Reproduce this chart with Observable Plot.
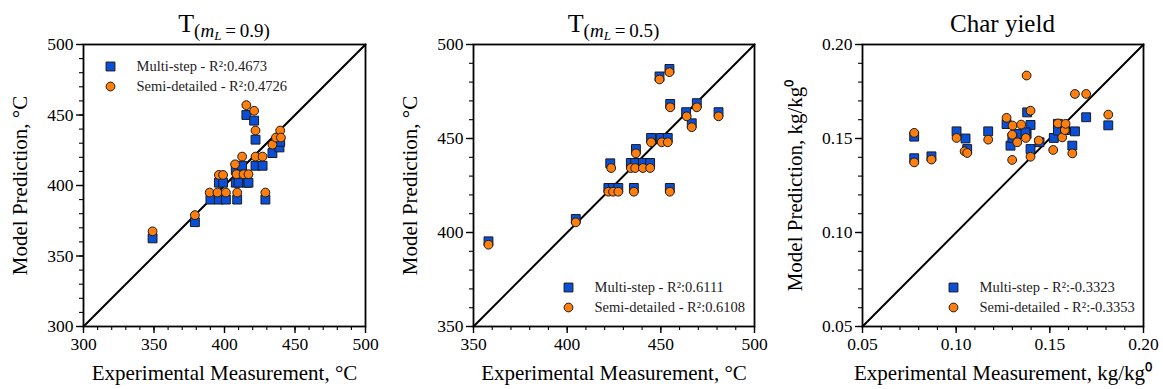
<!DOCTYPE html>
<html>
<head>
<meta charset="utf-8">
<script src="https://cdn.jsdelivr.net/npm/d3@7"></script>
<script src="https://cdn.jsdelivr.net/npm/@observablehq/plot@0.6"></script>
<style>
  html, body { margin: 0; padding: 0; background: #fff; }
  #wrap { position: relative; width: 1163px; height: 389px; overflow: hidden; }
  .panel { position: absolute; top: 0; }
  .panel svg, .panel svg text, .panel svg tspan, .panel svg g { font-family: "Liberation Serif", "Times New Roman", serif !important; }
</style>
</head>
<body>
<div id="wrap"></div>
<script>
// ---------- Panel 1: T (mL = 0.9) ----------
const p1Domain = [300, 500];
const p1Major = [300, 350, 400, 450, 500];
const p1Minor = d3.range(300, 501, 10);
const p1MsExp  = [349, 379, 390, 396, 401, 409, 429, 396, 399, 408, 410, 416, 408, 412.5, 422, 427, 415.5, 421, 422, 434, 439, 439.5, 417];
const p1MsPred = [362.5, 374, 390, 390, 390, 390, 390, 402, 402, 402, 402, 402, 411, 414, 414, 414, 450, 446, 432.5, 423, 427, 431, 402];
const p1SdExp  = [349, 379, 389.5, 395, 401, 409, 429, 396, 399, 407.5, 408.5, 412.5, 413.5, 417, 415.5, 421, 422, 422, 427, 434, 436.5, 439.5, 440];
const p1SdPred = [367.5, 379, 395, 395, 395, 395, 395, 407.5, 407.5, 415, 408, 420.5, 408, 408, 457, 453, 439, 420.5, 420.5, 429, 434, 439, 434];
const p1Legend = ["Multi-step - R²:0.4673", "Semi-detailed - R²:0.4726"];

// ---------- Panel 2: T (mL = 0.5) ----------
const p2Domain = [350, 500];
const p2Major = [350, 400, 450, 500];
const p2Minor = d3.range(350, 501, 10);
const p2MsExp  = [358, 404.6, 423, 422, 424.5, 427.3, 435.6, 454.8, 434, 436.3, 440.4, 444.3, 436.7, 444.8, 450, 453.7, 449.3, 454.6, 455, 463.5, 466.5, 469.2, 480.8];
const p2MsPred = [395.3, 407.2, 436.8, 423.7, 423.7, 423.7, 423.7, 423.7, 437, 437, 437, 437, 444.4, 450.3, 450.3, 450.3, 483, 487, 468.4, 464, 458.1, 468.8, 464];
const p2SdExp  = [358, 404.6, 423.5, 422, 424.5, 427.3, 435.6, 454.8, 434, 436.3, 440.4, 444.3, 436.7, 444.8, 450.5, 453.7, 449.3, 454.6, 455, 463.8, 466.5, 469.2, 480.8];
const p2SdPred = [393.5, 405.4, 434.3, 421.7, 421.7, 421.7, 421.7, 421.7, 434.3, 434.3, 434.3, 434.3, 442.1, 448, 448, 448, 481.4, 485.3, 466.6, 461.8, 456, 466.6, 461.8];
const p2Legend = ["Multi-step - R²:0.6111", "Semi-detailed - R²:0.6108"];

// ---------- Panel 3: Char yield ----------
const p3Domain = [0.05, 0.20];
const p3Major = [0.05, 0.10, 0.15, 0.20];
const p3Minor = d3.range(5, 21, 1).map(d => d / 100);
const p3MsExp  = [0.0776, 0.0776, 0.0868, 0.1002, 0.105, 0.1059, 0.1171, 0.1269, 0.129, 0.1326, 0.1376, 0.1379, 0.1397, 0.137, 0.1397, 0.1445, 0.1521, 0.1543, 0.1543, 0.1582, 0.162, 0.1634, 0.1694, 0.1812, 0.1300];
const p3MsPred = [0.151, 0.1395, 0.1405, 0.1538, 0.150, 0.1444, 0.1538, 0.1577, 0.1462, 0.1524, 0.1524, 0.1639, 0.1572, 0.1533, 0.1444, 0.148, 0.1503, 0.1578, 0.1542, 0.1545, 0.1462, 0.1538, 0.1613, 0.157, 0.1503];
const p3SdExp  = [0.0776, 0.0776, 0.0868, 0.1002, 0.1045, 0.1059, 0.1171, 0.1269, 0.1301, 0.1347, 0.1299, 0.1299, 0.1326, 0.1372, 0.1376, 0.1397, 0.1397, 0.1441, 0.1518, 0.1543, 0.1566, 0.158, 0.1584, 0.162, 0.1634, 0.1694, 0.1812];
const p3SdPred = [0.153, 0.1373, 0.1388, 0.1503, 0.1432, 0.1423, 0.1494, 0.161, 0.1569, 0.1574, 0.152, 0.1386, 0.148, 0.1503, 0.1835, 0.1648, 0.1403, 0.1489, 0.1439, 0.158, 0.1506, 0.1545, 0.1578, 0.1421, 0.1737, 0.1737, 0.1627];
const p3Legend = ["Multi-step - R²:-0.3323", "Semi-detailed - R²:-0.3353"];

const BLUE = "#0a4fd8";
const ORANGE = "#ff7f0e";
const EDGE = "#1a1a1a";
const FONT = "'Liberation Serif', 'Times New Roman', serif";

function zip(xs, ys) { return xs.map((x, i) => ({x, y: ys[i]})); }

function makePanel(o) {
  const ms = zip(o.msExp, o.msPred);
  const sd = zip(o.sdExp, o.sdPred);
  const diag = [{x: o.domain[0], y: o.domain[0]}, {x: o.domain[1], y: o.domain[1]}];
  const svg = Plot.plot({
    width: o.width, height: 389,
    marginTop: 44, marginBottom: 63, marginLeft: o.marginLeft, marginRight: o.marginRight,
    x: {domain: o.domain},
    y: {domain: o.domain},
    style: {fontFamily: FONT, fontSize: "17px", color: "#000", background: "transparent", overflow: "visible"},
    marks: [
      Plot.line(diag, {x: "x", y: "y", stroke: "#000", strokeWidth: 2}),
      Plot.dot(ms, {x: "x", y: "y", symbol: "square", r: 5, fill: BLUE, stroke: EDGE, strokeWidth: 1}),
      Plot.dot(sd, {x: "x", y: "y", symbol: "circle", r: 4.4, fill: ORANGE, stroke: EDGE, strokeWidth: 1}),
      Plot.frame({stroke: "#000", strokeWidth: 1.8}),
      Plot.axisX(o.major, {tickSize: 7, tickPadding: 4, tickFormat: o.fmt, label: null, fontSize: 17.5, strokeWidth: 1.4}),
      Plot.axisX(o.minor, {tickSize: 4, tickFormat: () => "", label: null, strokeWidth: 1.1}),
      Plot.axisY(o.major, {tickSize: 7, tickPadding: 3, tickFormat: o.fmt, label: null, fontSize: 17.5, strokeWidth: 1.4}),
      Plot.axisY(o.minor, {tickSize: 4, tickFormat: () => "", label: null, strokeWidth: 1.1}),
      // axis labels
      Plot.text([o.xLabel], {frameAnchor: "bottom", dy: 47, fontSize: 21, textAnchor: "middle", lineAnchor: "middle", fill: "#000"}),
      Plot.text([o.yLabel], {frameAnchor: "left", dx: o.yLabelDx, rotate: -90, fontSize: 21, textAnchor: "middle", lineAnchor: "middle", fill: "#000"}),
      // legend
      Plot.dot([0], {frameAnchor: "top-left", dx: o.legDx, dy: o.legDy, symbol: "square", r: 5, fill: BLUE, stroke: EDGE, strokeWidth: 1}),
      Plot.dot([0], {frameAnchor: "top-left", dx: o.legDx, dy: o.legDy + 20, symbol: "circle", r: 4.4, fill: ORANGE, stroke: EDGE, strokeWidth: 1}),
      Plot.text([o.legend[0]], {frameAnchor: "top-left", dx: o.legDx + 26, dy: o.legDy, fontSize: 14.5, textAnchor: "start", lineAnchor: "middle", fill: "#222"}),
      Plot.text([o.legend[1]], {frameAnchor: "top-left", dx: o.legDx + 26, dy: o.legDy + 20, fontSize: 14.5, textAnchor: "start", lineAnchor: "middle", fill: "#222"})
    ]
  });
  // title
  const cx = o.marginLeft + (o.width - o.marginLeft - o.marginRight) / 2;
  const t = d3.select(svg).append("text")
    .attr("x", cx).attr("y", 32)
    .attr("text-anchor", "middle")
    .attr("font-family", FONT)
    .attr("fill", "#000");
  if (o.sub) {
    t.append("tspan").attr("font-size", 26).text("T");
    t.append("tspan").attr("font-size", 19).attr("dy", 5).text("(");
    t.append("tspan").attr("font-size", 19).attr("font-style", "italic").text("m");
    t.append("tspan").attr("font-size", 13).attr("font-style", "italic").attr("dy", 3).text("L");
    t.append("tspan").attr("font-size", 19).attr("dy", -3).text("\u2009=\u20090." + o.sub + ")");
  } else {
    t.attr("font-size", 25).text(o.title);
  }
  const div = document.createElement("div");
  div.className = "panel";
  div.style.left = o.left + "px";
  div.appendChild(svg);
  document.getElementById("wrap").appendChild(div);
}

const fmtInt = d3.format("d");
const fmt2 = d3.format(".2f");

makePanel({left: 0, width: 390, marginLeft: 83, marginRight: 25, domain: p1Domain, major: p1Major, minor: p1Minor, fmt: fmtInt,
  msExp: p1MsExp, msPred: p1MsPred, sdExp: p1SdExp, sdPred: p1SdPred, legend: p1Legend, legDx: 27, legDy: 22,
  xLabel: "Experimental Measurement, °C", yLabel: "Model Prediction, °C", yLabelDx: -63, sub: "9"});

makePanel({left: 390, width: 390, marginLeft: 83, marginRight: 26, domain: p2Domain, major: p2Major, minor: p2Minor, fmt: fmtInt,
  msExp: p2MsExp, msPred: p2MsPred, sdExp: p2SdExp, sdPred: p2SdPred, legend: p2Legend, legDx: 95, legDy: 243,
  xLabel: "Experimental Measurement, °C", yLabel: "Model Prediction, °C", yLabelDx: -63, sub: "5"});

makePanel({left: 770, width: 393, marginLeft: 92, marginRight: 20, domain: p3Domain, major: p3Major, minor: p3Minor, fmt: fmt2,
  msExp: p3MsExp, msPred: p3MsPred, sdExp: p3SdExp, sdPred: p3SdPred, legend: p3Legend, legDx: 91, legDy: 243,
  xLabel: "Experimental Measurement, kg/kg⁰", yLabel: "Model Prediction, kg/kg⁰", yLabelDx: -67, title: "Char yield"});
</script>
</body>
</html>
